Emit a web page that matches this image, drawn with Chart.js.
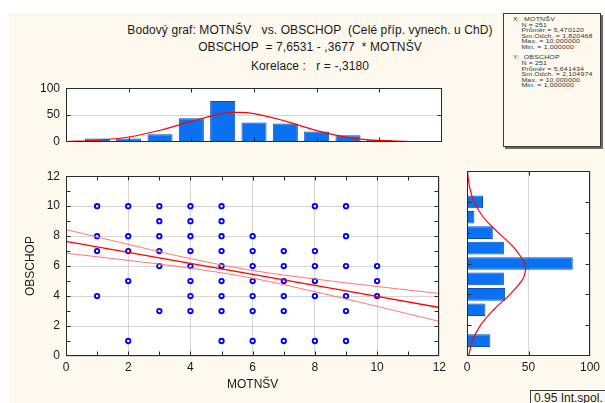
<!DOCTYPE html>
<html>
<head>
<meta charset="utf-8">
<script src="https://cdn.jsdelivr.net/npm/chart.js@4/dist/chart.umd.min.js"></script>
<style>
  html, body { margin: 0; padding: 0; background: #fff; }
  body { width: 605px; height: 403px; position: relative; overflow: hidden;
         font-family: "Liberation Sans", Arial, sans-serif; color: #1a1a1a; }
  #panel { position: absolute; left: 9px; top: 13px; right: 0; bottom: 0; background: #fdf9ee; }
  canvas { position: absolute; }
  .head { position: absolute; left: 110px; width: 400px; text-align: center; font-size: 12px;
          line-height: 14px; white-space: pre; letter-spacing: 0.1px; }
  #stats { position: absolute; left: 503px; top: 13px; width: 96px; height: 132px;
           border: 1px solid #3a3a3a; box-shadow: 2px 2px 0 #6a6a6a; background: #fdf9ee; }
  #stats pre { margin: 0; position: absolute; left: 9px; top: 3px; font-family: "Liberation Sans", Arial, sans-serif;
               font-size: 7px; line-height: 6.9px; letter-spacing: 0.15px; color: #333;
               transform: scaleY(0.8); transform-origin: 0 0; }
  #ci { position: absolute; left: 530px; top: 390px; width: 80px; height: 20px; border: 1px solid #3a3a3a;
        background: #fdf9ee; font-size: 12px; line-height: 14px; padding-left: 3px; }
</style>
</head>
<body>
<div id="panel"></div>

<div class="head" style="top:23px">Bodový graf: MOTNŠV   vs. OBSCHOP  (Celé příp. vynech. u ChD)</div>
<div class="head" style="top:40px">OBSCHOP  = 7,6531 - ,3677  * MOTNŠV</div>
<div class="head" style="top:59px">Korelace :   r = -,3180</div>

<div id="stats"><pre>X:  MOTNŠV
    N = 251
    Průměr = 5,470120
    Sm.Odch. = 1,820468
    Max. = 10,000000
    Min. = 1,000000

Y:  OBSCHOP
    N = 251
    Průměr = 5,641434
    Sm.Odch. = 2,104974
    Max. = 10,000000
    Min. = 1,000000</pre></div>

<canvas id="topHist" width="450" height="80" style="left:0;top:75px"></canvas>
<canvas id="scatter" width="450" height="240" style="left:0;top:163px"></canvas>
<canvas id="rightHist" width="155" height="240" style="left:450px;top:163px"></canvas>

<div id="ci">0.95 Int.spol.</div>

<script>
"use strict";

// histogram of MOTNŠV (top)
const motnsvBins = [1, 2, 3, 4, 5, 6, 7, 8, 9, 10];
const motnsvCounts = [6, 6, 14, 44, 76, 36, 34, 19, 12, 4];
const motNormX = [0, 1, 2, 3, 4, 5, 5.5, 6, 7, 8, 9, 10, 11, 12];
const motNormY = [0.6, 2.7, 8.9, 21.5, 38, 53, 55, 52.7, 38.6, 20.9, 8.4, 2.5, 0.5, 0.1];

// histogram of OBSCHOP (right)
const obschopBins = [1, 2, 3, 4, 5, 6, 7, 8, 9, 10];
const obschopCounts = [19, 0, 15, 31, 30, 86, 30, 21, 6, 13];
const obsNormY = [0, 1, 2, 3, 4, 5, 5.6, 6, 7, 8, 9, 10, 11, 12];
const obsNormX = [1.3, 4.5, 11, 21.7, 35, 45.5, 47.6, 46.9, 38.6, 25.4, 13.3, 5.8, 2, 0.4];

// scatter points (MOTNŠV, OBSCHOP)
const ptX = [1, 1, 1, 1,
             2, 2, 2, 2, 2,
             3, 3, 3, 3, 3, 3,
             4, 4, 4, 4, 4, 4, 4, 4,
             5, 5, 5, 5, 5, 5, 5, 5, 5,
             6, 6, 6, 6, 6, 6, 6,
             7, 7, 7, 7, 7, 7,
             8, 8, 8, 8, 8, 8,
             9, 9, 9, 9, 9, 9,
             10, 10, 10];
const ptY = [10, 8, 7, 4,
             10, 8, 7, 5, 1,
             10, 9, 8, 7, 6, 3,
             10, 9, 8, 7, 6, 5, 4, 3,
             10, 9, 8, 7, 6, 5, 4, 3, 1,
             8, 7, 6, 5, 4, 3, 1,
             7, 6, 5, 4, 3, 1,
             10, 7, 6, 5, 4, 1,
             10, 8, 6, 4, 3, 1,
             6, 5, 4];

// regression line and 0.95 confidence band
const fitX = [0, 2, 4, 6, 8, 10, 12];
const fitY = [7.65, 6.92, 6.18, 5.45, 4.71, 3.98, 3.24];
const bandHi = [8.44, 7.45, 6.50, 5.71, 5.14, 4.64, 4.17];
const bandLo = [6.86, 6.38, 5.86, 5.19, 4.29, 3.31, 2.31];

const BAR_FILL = "#0a72f2";
const BAR_EDGE = "#0b4fb5";
const GRID = "#d6d6d6";
const TXT = "#1a1a1a";

Chart.defaults.font.family = "'Liberation Sans', Arial, sans-serif";
Chart.defaults.font.size = 12;
Chart.defaults.color = TXT;

const ints = (a, b, step) => {
  const out = [];
  for (let v = a; v <= b; v += step) out.push(v);
  return out;
};
const pairs = (xs, ys) => xs.map((x, i) => ({ x, y: ys[i] }));

// white plot area, dark frame and small inward ticks like the original
const frame = {
  id: "frame",
  beforeDraw(chart) {
    const { ctx, chartArea: a } = chart;
    ctx.save();
    ctx.fillStyle = "#fff";
    ctx.fillRect(a.left, a.top, a.right - a.left, a.bottom - a.top);
    ctx.restore();
  },
  afterDraw(chart, args, opts) {
    const { ctx, chartArea: a, scales } = chart;
    const L = Math.round(a.left) + 0.5, R = Math.round(a.right) - 0.5;
    const T = Math.round(a.top) + 0.5, B = Math.round(a.bottom) - 0.5;
    ctx.save();
    ctx.strokeStyle = "#2a2a2a";
    ctx.lineWidth = 1;
    ctx.beginPath();
    (opts.x || []).forEach((v) => {
      const p = Math.round(scales.x.getPixelForValue(v)) + 0.5;
      ctx.moveTo(p, T); ctx.lineTo(p, T + 4);
      ctx.moveTo(p, B); ctx.lineTo(p, B - 4);
    });
    (opts.y || []).forEach((v) => {
      const p = Math.round(scales.y.getPixelForValue(v)) + 0.5;
      ctx.moveTo(L, p); ctx.lineTo(L + 4, p);
      ctx.moveTo(R, p); ctx.lineTo(R - 4, p);
    });
    ctx.stroke();
    ctx.strokeRect(L, T, R - L, B - T);
    ctx.restore();
  },
};

const base = {
  responsive: false,
  animation: false,
  events: [],
};

// top histogram
new Chart(document.getElementById("topHist"), {
  type: "bar",
  data: {
    datasets: [
      { type: "line", data: pairs(motNormX, motNormY), borderColor: "#ff0000", borderWidth: 1.2,
        pointRadius: 0, tension: 0.4 },
      { data: pairs(motnsvBins, motnsvCounts), backgroundColor: BAR_FILL, borderColor: BAR_EDGE,
        borderWidth: 1, barPercentage: 0.8, categoryPercentage: 1 },
    ],
  },
  options: {
    ...base,
    layout: { padding: { top: 10, bottom: 10, right: 8, left: 0 } },
    plugins: { legend: { display: false }, tooltip: { enabled: false },
      frame: { x: ints(2, 10, 2), y: [50] } },
    scales: {
      x: { type: "linear", min: 0, max: 12, offset: false, display: false },
      y: { type: "linear", min: 0, max: 100, offset: false,
        ticks: { stepSize: 50, padding: 6 },
        grid: { color: GRID, drawTicks: false }, border: { display: false },
        afterFit(s) { s.width = 66; } },
    },
  },
  plugins: [frame],
});

// scatter with regression
new Chart(document.getElementById("scatter"), {
  type: "scatter",
  data: {
    datasets: [
      { data: pairs(fitX, fitY), showLine: true, borderColor: "#ff0000", borderWidth: 1.4,
        pointRadius: 0, tension: 0 },
      { data: pairs(fitX, bandHi), showLine: true, borderColor: "#ff7676", borderWidth: 1,
        pointRadius: 0, tension: 0.4 },
      { data: pairs(fitX, bandLo), showLine: true, borderColor: "#ff7676", borderWidth: 1,
        pointRadius: 0, tension: 0.4 },
      { data: pairs(ptX, ptY), pointRadius: 2.2, pointBorderWidth: 1.9,
        pointBackgroundColor: "#ffffff", pointBorderColor: "#0000ff" },
    ],
  },
  options: {
    ...base,
    layout: { padding: { top: 8, bottom: 0, right: 8, left: 0 } },
    plugins: { legend: { display: false }, tooltip: { enabled: false },
      frame: { x: ints(1, 11, 1), y: ints(1, 11, 1) } },
    scales: {
      x: { type: "linear", min: 0, max: 12,
        ticks: { stepSize: 2, padding: 4 },
        grid: { color: GRID, drawTicks: false }, border: { display: false },
        title: { display: true, text: "MOTNŠV", padding: { top: 0, bottom: 11 } },
        afterFit(s) { s.height = 47; } },
      y: { type: "linear", min: 0, max: 12,
        ticks: { stepSize: 2, padding: 6 },
        grid: { color: GRID, drawTicks: false }, border: { display: false },
        title: { display: true, text: "OBSCHOP", padding: { top: 23, bottom: 0 } },
        afterFit(s) { s.width = 66; } },
    },
  },
  plugins: [frame],
});

// right histogram
new Chart(document.getElementById("rightHist"), {
  type: "bar",
  data: {
    datasets: [
      { type: "line", indexAxis: "y", data: pairs(obsNormX, obsNormY), borderColor: "#ff0000",
        borderWidth: 1.2, pointRadius: 0, tension: 0.4 },
      { data: pairs(obschopCounts, obschopBins), backgroundColor: BAR_FILL, borderColor: BAR_EDGE,
        borderWidth: 1, barPercentage: 0.82, categoryPercentage: 1 },
    ],
  },
  options: {
    ...base,
    indexAxis: "y",
    layout: { padding: { top: 8, bottom: 0, right: 15, left: 17 } },
    plugins: { legend: { display: false }, tooltip: { enabled: false },
      frame: { x: [50], y: ints(2, 10, 2) } },
    scales: {
      x: { type: "linear", min: 0, max: 100, offset: false,
        ticks: { stepSize: 50, padding: 4 },
        grid: { color: GRID, drawTicks: false }, border: { display: false },
        afterFit(s) { s.height = 47; } },
      y: { type: "linear", min: 0, max: 12, offset: false, display: false },
    },
  },
  plugins: [frame],
});
</script>
</body>
</html>
